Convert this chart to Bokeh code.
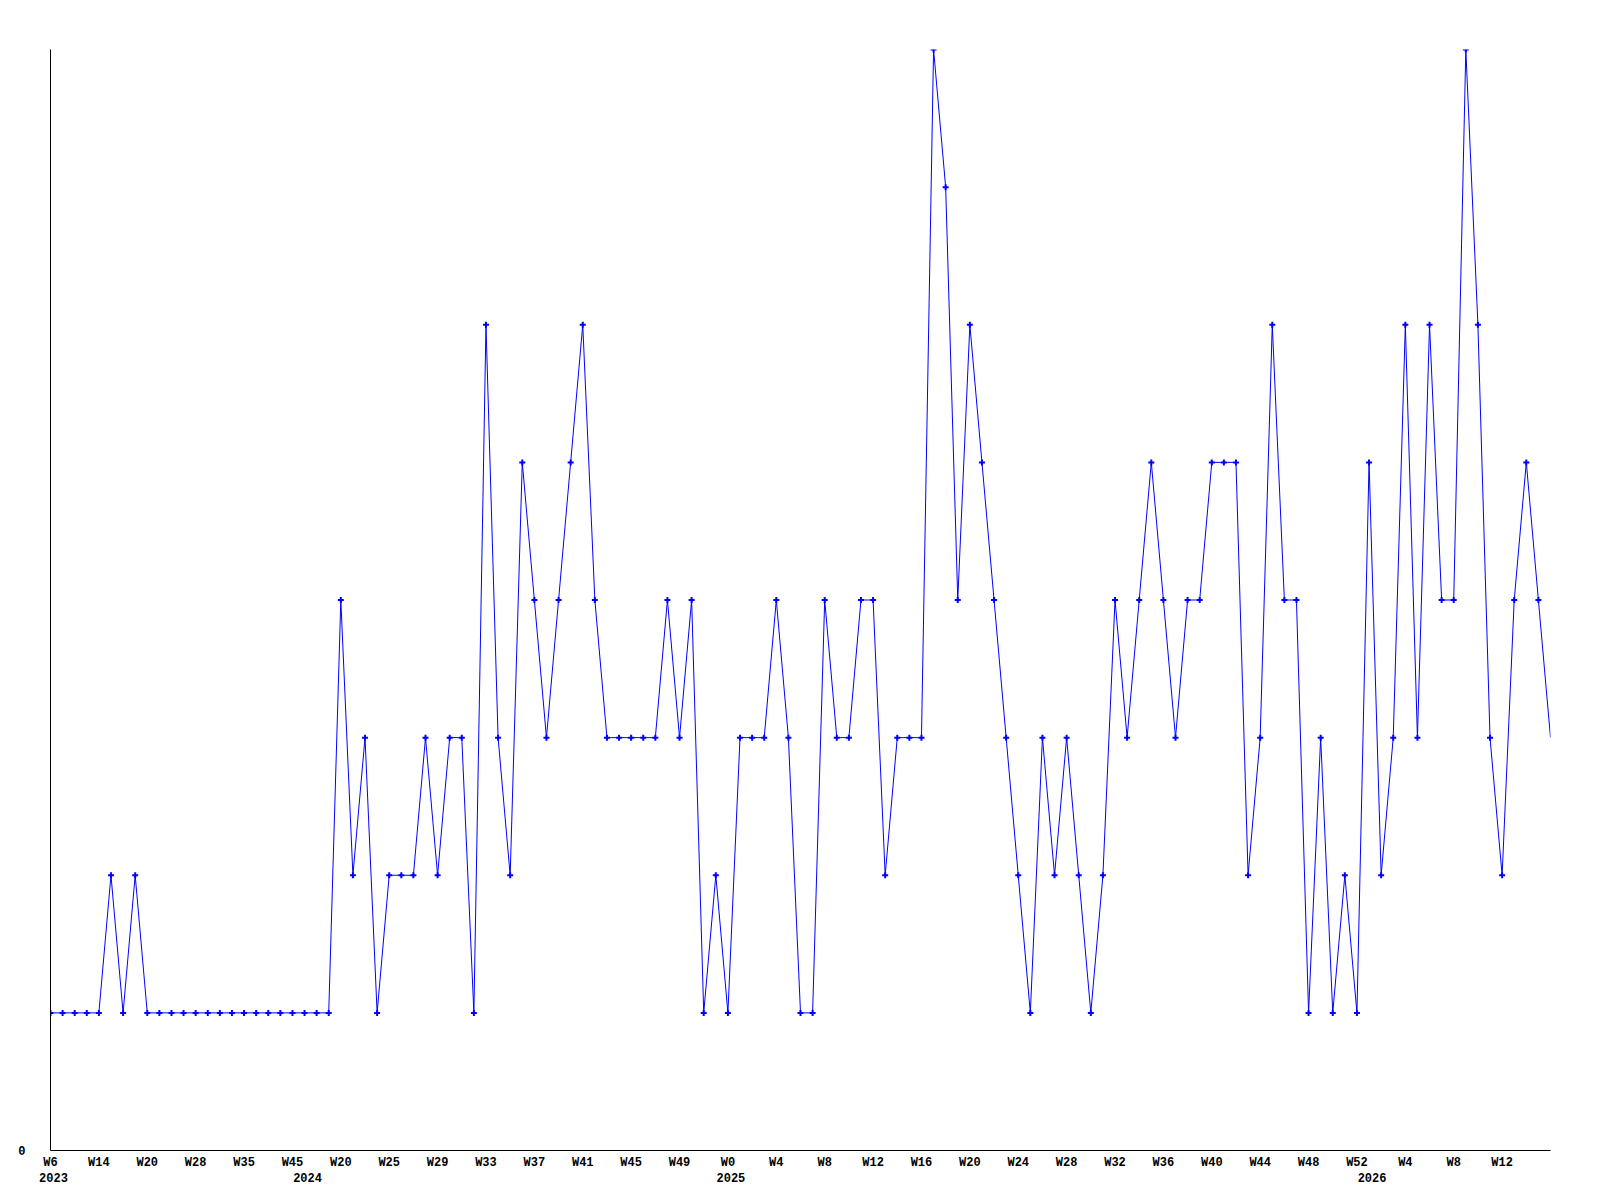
from bokeh.plotting import figure
from bokeh.models import Range1d, FixedTicker, LinearAxis
from bokeh.embed import file_html
from bokeh.resources import INLINE

# weekly counts (one point per week present in the data)
values = [1, 1, 1, 1, 1, 2, 1, 2, 1, 1, 1, 1, 1, 1, 1, 1, 1, 1, 1, 1,
          1, 1, 1, 1, 4, 2, 3, 1, 2, 2, 2, 3, 2, 3, 3, 1, 6, 3, 2, 5,
          4, 3, 4, 5, 6, 4, 3, 3, 3, 3, 3, 4, 3, 4, 1, 2, 1, 3, 3, 3,
          4, 3, 1, 1, 4, 3, 3, 4, 4, 2, 3, 3, 3, 8, 7, 4, 6, 5, 4, 3,
          2, 1, 3, 2, 3, 2, 1, 2, 4, 3, 4, 5, 4, 3, 4, 4, 5, 5, 5, 2,
          3, 6, 4, 4, 1, 3, 1, 2, 1, 5, 2, 3, 6, 3, 6, 4, 4, 8, 6, 3,
          2, 4, 5, 4, 3]

# tick labels, one for every 4th point
week_tick_labels = ["W6", "W14", "W20", "W28", "W35", "W45", "W20", "W25", "W29",
                    "W33", "W37", "W41", "W45", "W49", "W0", "W4", "W8", "W12",
                    "W16", "W20", "W24", "W28", "W32", "W36", "W40", "W44", "W48",
                    "W52", "W4", "W8", "W12"]
tick_step = 4

# year labels and index of the first week of each year
year_labels = ["2023", "2024", "2025", "2026"]
year_start_index = [0, 21, 56, 109]

y_tick_labels = ["0"]

n = len(values)
xs = list(range(n))

FONT = "Liberation Mono"
FSIZE = "12px"
FRAME_W = 1500

p = figure(frame_width=FRAME_W, frame_height=1101,
           output_backend="svg", toolbar_location=None,
           x_range=Range1d(0, n - 1), y_range=Range1d(0, max(values)),
           min_border_left=50, min_border_top=49,
           min_border_right=40, min_border_bottom=44)

p.outline_line_color = None
p.xgrid.visible = False
p.ygrid.visible = False
p.background_fill_color = "white"
p.border_fill_color = "white"

def style_axis(ax):
    ax.major_tick_out = 0
    ax.major_tick_in = 0
    ax.minor_tick_out = 0
    ax.minor_tick_in = 0
    ax.major_label_text_font = FONT
    ax.major_label_text_font_size = FSIZE
    ax.major_label_text_font_style = "bold"
    ax.major_label_text_color = "black"

# x axis with week labels every 4th point
week_ticks = list(range(0, n, tick_step))[:len(week_tick_labels)]
p.xaxis.ticker = FixedTicker(ticks=week_ticks)
p.xaxis.major_label_overrides = {t: l for t, l in zip(week_ticks, week_tick_labels)}
style_axis(p.xaxis[0])
p.xaxis.major_label_standoff = 5
p.xaxis.axis_line_color = "black"

# year labels on a second row (range shifted a few px to mimic left-aligned text)
px_per_unit = FRAME_W / (n - 1)
shift = 3.0 / px_per_unit
p.extra_x_ranges = {"yr": Range1d(0 - shift, n - 1 - shift)}
yax = LinearAxis(x_range_name="yr", ticker=FixedTicker(ticks=year_start_index),
                 major_label_overrides={t: l for t, l in zip(year_start_index, year_labels)})
style_axis(yax)
yax.axis_line_color = None
yax.major_label_standoff = 0
p.add_layout(yax, "below")

# y axis: only the 0 label
p.yaxis.ticker = FixedTicker(ticks=[0])
p.yaxis.major_label_overrides = {0: y_tick_labels[0]}
style_axis(p.yaxis[0])
p.yaxis.major_label_standoff = 25
p.yaxis.axis_line_color = "black"

p.line(xs, values, line_color="#0000ff", line_width=1)
p.scatter(xs[:-1], values[:-1], marker="cross", size=6,
          line_color="#0000ff", line_width=2)

open("out.html", "w").write(file_html(p, INLINE))
